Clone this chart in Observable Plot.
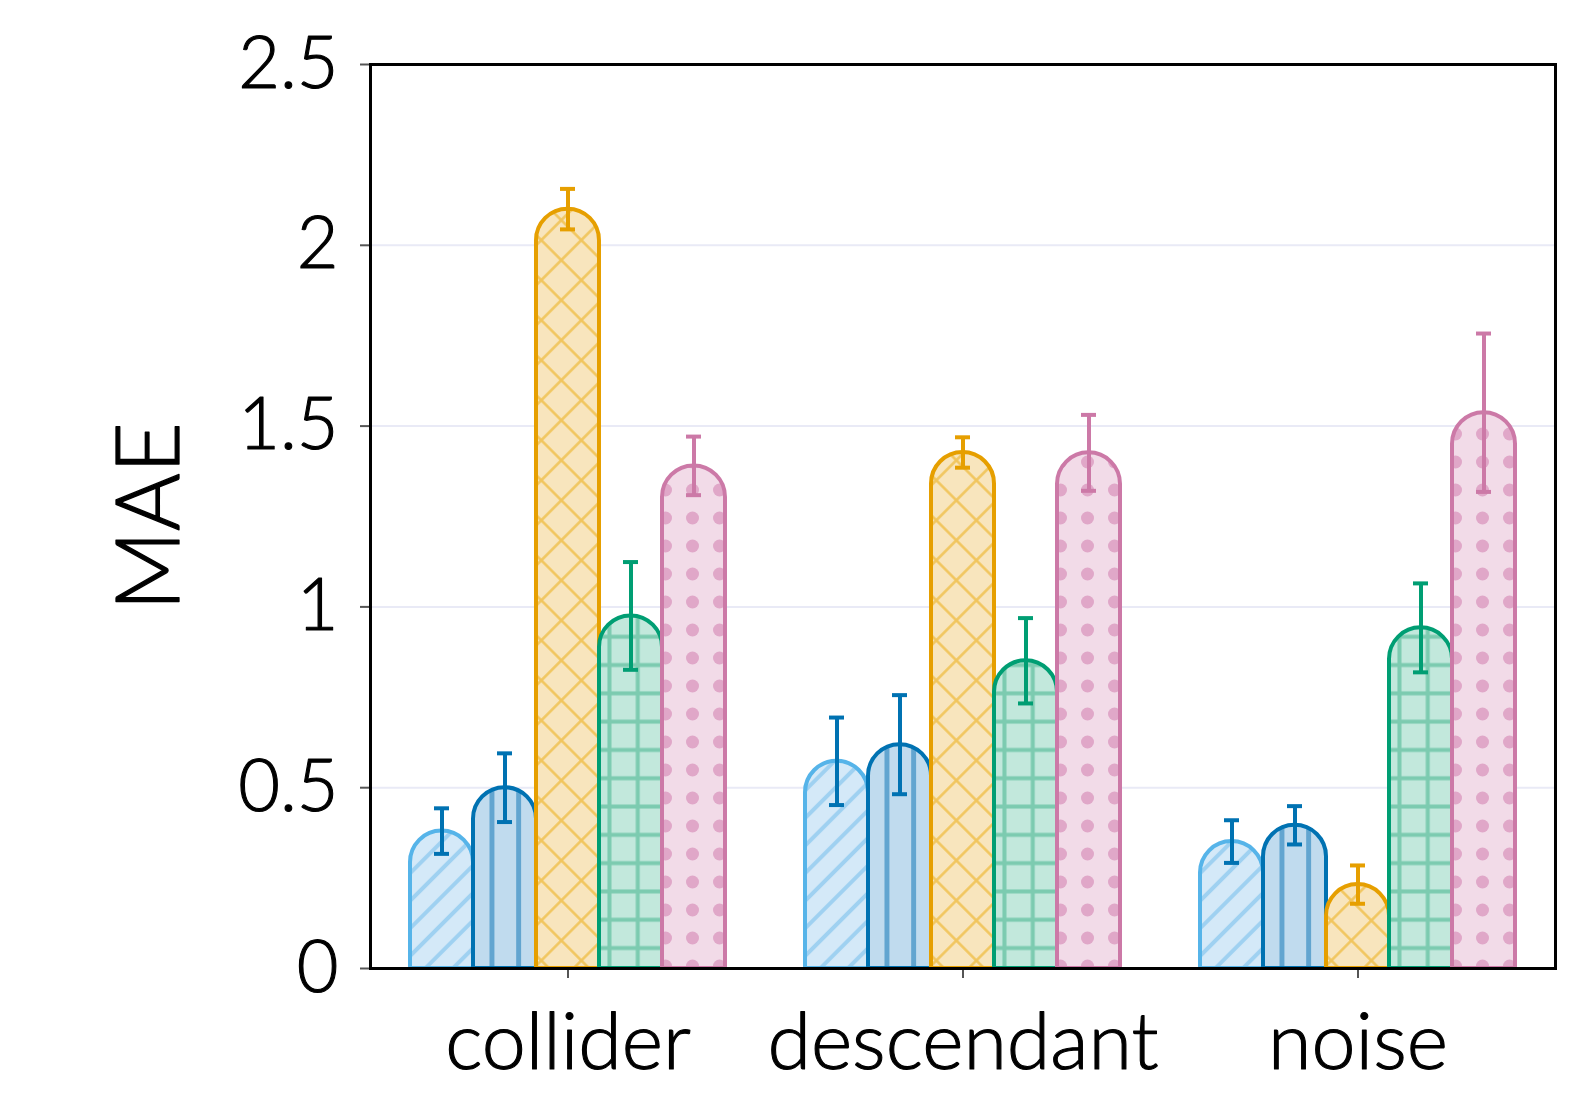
<!DOCTYPE html>
<html>
<head>
<meta charset="utf-8">
<script src="https://cdn.jsdelivr.net/npm/d3@7"></script>
<script src="https://cdn.jsdelivr.net/npm/@observablehq/plot@0.6"></script>
<style>
  html, body { margin: 0; padding: 0; background: #fff; overflow: hidden; }
  #chart { width: 1577px; height: 1113px; }
  #chart svg { max-width: none !important; }
</style>
</head>
<body>
<div id="chart"></div>
<script>
const categories = ["collider", "descendant", "noise"];
const seriesNames = ["S1", "S2", "S3", "S4", "S5"];
const seriesStroke = ["#56B4E9", "#0072B2", "#E69F00", "#009E73", "#CC79A7"];
const errorStroke = ["#0072B2", "#0072B2", "#E69F00", "#009E73", "#CC79A7"];
const patternIds = ["p0", "p1", "p2", "p3", "p4"];

const colliderMean   = [0.38, 0.50, 2.10, 0.975, 1.39];
const descendantMean = [0.573, 0.619, 1.427, 0.851, 1.426];
const noiseMean      = [0.351, 0.396, 0.232, 0.942, 1.537];

const colliderErr   = [0.063, 0.095, 0.056, 0.149, 0.081];
const descendantErr = [0.121, 0.137, 0.042, 0.118, 0.105];
const noiseErr      = [0.059, 0.053, 0.053, 0.123, 0.219];

const yTicks = [0, 0.5, 1, 1.5, 2, 2.5];
const yLabel = "MAE";

const means = [colliderMean, descendantMean, noiseMean];
const errs = [colliderErr, descendantErr, noiseErr];
const rows = [];
categories.forEach((c, ci) => {
  seriesNames.forEach((s, si) => {
    rows.push({
      category: c,
      series: s,
      mean: means[ci][si],
      lo: means[ci][si] - errs[ci][si],
      hi: means[ci][si] + errs[ci][si],
      fill: `url(#${patternIds[si]})`,
      stroke: seriesStroke[si],
      err: errorStroke[si]
    });
  });
});

const font = "Lato, 'Noto Sans', sans-serif";

const chart = Plot.plot({
  width: 1577,
  height: 1113,
  marginLeft: 369,
  marginRight: 22,
  marginTop: 64,
  marginBottom: 145,
  style: { fontFamily: font, background: "#fff", color: "#000", fontWeight: 300 },
  fx: { domain: categories, paddingInner: 0, paddingOuter: 0 },
  x: { domain: seriesNames, paddingInner: 0, paddingOuter: 0.62, axis: null },
  y: { domain: [0, 2.5] },
  color: { type: "identity" },
  marks: [
    Plot.gridY(yTicks.slice(1, 5), { stroke: "#e9eaf6", strokeOpacity: 1, strokeWidth: 2 }),
    Plot.barY(rows, {
      fx: "category", x: "series", y: "mean",
      fill: "fill", stroke: "stroke", strokeWidth: 4, ry1: 100
    }),
    Plot.ruleX(rows, { fx: "category", x: "series", y1: "lo", y2: "hi", stroke: "err", strokeWidth: 4 }),
    Plot.tickY(rows, { fx: "category", x: "series", y: "lo", stroke: "err", strokeWidth: 4, insetLeft: 24, insetRight: 24 }),
    Plot.tickY(rows, { fx: "category", x: "series", y: "hi", stroke: "err", strokeWidth: 4, insetLeft: 24, insetRight: 24 }),
    Plot.axisY({
      ticks: yTicks, tickFormat: d => String(d), tickSize: 10, tickPadding: 22,
      fontSize: 72, label: null, stroke: "#555", strokeWidth: 2,
      textStroke: "#000", textStrokeWidth: 1.1
    }),
    Plot.axisFx({
      anchor: "bottom", tickSize: 10, tickPadding: 34, fontSize: 79,
      label: null, stroke: "#555", strokeWidth: 2,
      textStroke: "#000", textStrokeWidth: 1.1
    }),
    Plot.frame({ facet: "super", stroke: "#000", strokeWidth: 3 }),
    Plot.text([{ category: categories[0], label: yLabel }], {
      fx: "category", text: "label", frameAnchor: "left", textAnchor: "middle",
      dx: -219.5, rotate: -90, fontSize: 88, fill: "#000", fontFamily: font,
      stroke: "#000", strokeWidth: 1.3
    })
  ]
});

const svg = d3.select(chart.tagName.toLowerCase() === "svg" ? chart : chart.querySelector("svg"));
const defs = svg.insert("defs", ":first-child");

// p0: light blue diagonal lines
let p = defs.append("pattern").attr("id", "p0").attr("patternUnits", "userSpaceOnUse")
  .attr("width", 19.5).attr("height", 19.5).attr("patternTransform", "rotate(45)");
p.append("rect").attr("width", 19.5).attr("height", 19.5).attr("fill", "#d4e9f8");
p.append("line").attr("x1", 9.75).attr("x2", 9.75).attr("y1", 0).attr("y2", 19.5).attr("stroke", "#9fd1f1").attr("stroke-width", 4);

// p1: blue vertical lines
p = defs.append("pattern").attr("id", "p1").attr("patternUnits", "userSpaceOnUse")
  .attr("x", -3).attr("width", 26.7).attr("height", 26.7);
p.append("rect").attr("width", 26.7).attr("height", 26.7).attr("fill", "#c0dbee");
p.append("line").attr("x1", 13.35).attr("x2", 13.35).attr("y1", 0).attr("y2", 26.7).attr("stroke", "#62a5d0").attr("stroke-width", 5);

// p2: orange crosshatch
p = defs.append("pattern").attr("id", "p2").attr("patternUnits", "userSpaceOnUse")
  .attr("width", 28.3).attr("height", 28.3).attr("patternTransform", "rotate(45)");
p.append("rect").attr("width", 28.3).attr("height", 28.3).attr("fill", "#f8e5bd");
p.append("line").attr("x1", 14.15).attr("x2", 14.15).attr("y1", 0).attr("y2", 28.3).attr("stroke", "#f1c55c").attr("stroke-width", 2.5);
p.append("line").attr("y1", 14.15).attr("y2", 14.15).attr("x1", 0).attr("x2", 28.3).attr("stroke", "#f1c55c").attr("stroke-width", 2.5);

// p3: green grid
p = defs.append("pattern").attr("id", "p3").attr("patternUnits", "userSpaceOnUse")
  .attr("width", 28.3).attr("height", 28.3);
p.append("rect").attr("width", 28.3).attr("height", 28.3).attr("fill", "#c2e8dc");
p.append("line").attr("x1", 14.15).attr("x2", 14.15).attr("y1", 0).attr("y2", 28.3).attr("stroke", "#7ccbb0").attr("stroke-width", 4);
p.append("line").attr("y1", 14.15).attr("y2", 14.15).attr("x1", 0).attr("x2", 28.3).attr("stroke", "#7ccbb0").attr("stroke-width", 4);

// p4: pink dots
p = defs.append("pattern").attr("id", "p4").attr("patternUnits", "userSpaceOnUse")
  .attr("width", 27).attr("height", 28).attr("x", 3);
p.append("rect").attr("width", 27).attr("height", 28).attr("fill", "#f2dbe8");
p.append("circle").attr("cx", 13.5).attr("cy", 14).attr("r", 6.5).attr("fill", "#e0a7c8");

document.getElementById("chart").appendChild(chart);
</script>
</body>
</html>
